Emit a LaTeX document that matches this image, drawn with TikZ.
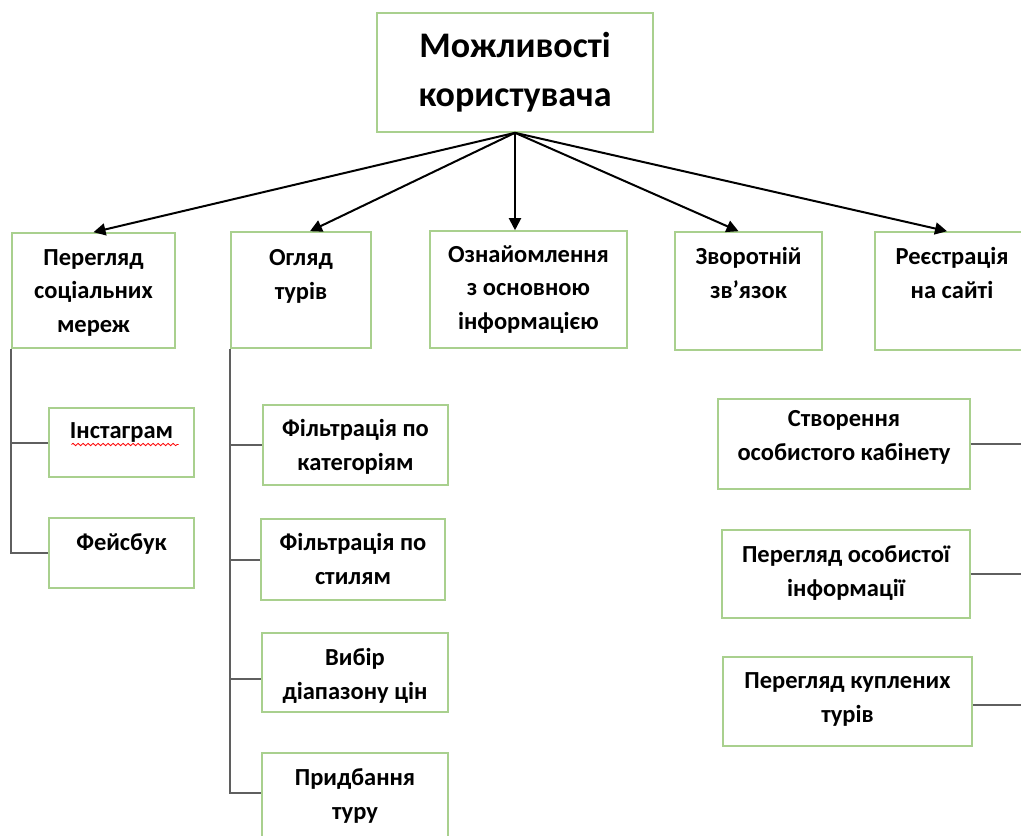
\documentclass[tikz,border=0pt]{standalone}
\usepackage{fontspec}
\setmainfont{Carlito}
\usetikzlibrary{arrows.meta, calc, positioning, decorations.pathmorphing}
\definecolor{boxgreen}{RGB}{169,208,142}
\definecolor{linegray}{RGB}{95,95,95}

\begin{document}
\begin{tikzpicture}[x=1pt, y=-1pt,
  box/.style={draw=boxgreen, line width=1.6pt, inner sep=0pt},
  txt/.style={font=\fontsize{24.5}{33.5}\selectfont\bfseries, align=center, anchor=base, inner sep=0pt},
  link/.style={draw=linegray, line width=2pt},
  arr/.style={-{Triangle[length=12pt,width=12pt]}, line width=2pt},
  squiggle/.style={red, line width=0.8pt, decorate, decoration={snake, amplitude=1.2pt, segment length=5pt}}
]
\useasboundingbox (0,0) rectangle (1021,836);
\fill[white] (0,0) rectangle (1021,836);
\clip (0,0) rectangle (1021,836);

% Root
\node[box, minimum width=276, minimum height=119, align=center,
      font=\fontsize{36}{49}\selectfont\bfseries] (root) at (515,72.5) {Можливості\\користувача};

% First level (base of the last line is placed)
\node[box, minimum width=163, minimum height=115, label={[txt, yshift=-100pt]north:Перегляд\\соціальних\\мереж}] (social) at (93.5,290.5) {};
\node[box, minimum width=140, minimum height=116, label={[txt, yshift=-68pt]north:Огляд\\турів}] (tours) at (301,290) {};
\node[box, minimum width=197, minimum height=117, label={[txt, yshift=-99pt]north:Ознайомлення\\з основною\\інформацією}] (info) at (528.5,289.5) {};
\node[box, minimum width=147, minimum height=118, label={[txt, yshift=-67pt]north:Зворотній\\зв’язок}] (feedback) at (748.5,291) {};
\node[box, minimum width=154, minimum height=118, label={[txt, yshift=-67pt]north:Реєстрація\\на сайті}] (register) at (952,291) {};

% Arrows
\draw[arr] (root.south) -- (social.north);
\draw[arr] (root.south) -- ([xshift=9pt]tours.north);
\draw[arr] (root.south) -- (info.north -| root.south);
\draw[arr] (root.south) -- ([xshift=-10pt]feedback.north);
\draw[arr] (root.south) -- ([xshift=-5pt]register.north);

% Social networks
\node[box, minimum width=145, minimum height=69, label={[txt, yshift=-31pt]north:Інстаграм}] (insta) at (121.5,442.5) {};
\node[box, minimum width=145, minimum height=70, label={[txt, yshift=-33pt]north:Фейсбук}] (fb) at (121.5,553) {};
\draw[squiggle] ([xshift=-50pt,yshift=-2pt]insta.center) -- ([xshift=57pt,yshift=-2pt]insta.center);
\draw[link] (social.south west |- insta.west) -- (insta.west);
\draw[link] (social.south west) |- (fb.west);

% Tours
\node[box, minimum width=185, minimum height=80, label={[txt, yshift=-66pt]north:Фільтрація по\\категоріям}] (cat) at (355.5,445) {};
\node[box, minimum width=184, minimum height=81, label={[txt, yshift=-66pt]north:Фільтрація по\\стилям}] (style) at (353,559.5) {};
\node[box, minimum width=186, minimum height=79, label={[txt, yshift=-67pt]north:Вибір\\діапазону цін}] (price) at (355,672.5) {};
\node[box, minimum width=186, minimum height=92, label={[txt, yshift=-67pt]north:Придбання\\туру}] (buy) at (355,799) {};
\draw[link] (tours.south west |- cat.west) -- (cat.west);
\draw[link] (tours.south west |- style.west) -- (style.west);
\draw[link] ([yshift=-6.5pt]tours.south west |- price.west) -- ([yshift=-6.5pt]price.west);
\draw[link] (tours.south west) |- ([yshift=6pt]buy.west);

% Registration
\node[box, minimum width=252, minimum height=90, label={[txt, yshift=-62pt]north:Створення\\особистого кабінету}] (cabinet) at (844,444) {};
\node[box, minimum width=248, minimum height=88, label={[txt, yshift=-67pt]north:Перегляд особистої\\інформації}] (personal) at (846,574) {};
\node[box, minimum width=249, minimum height=89, label={[txt, yshift=-66pt]north:Перегляд куплених\\турів}] (bought) at (847.5,701.5) {};
\draw[link] (cabinet.east) -- (cabinet.east -| register.south east);
\draw[link] (personal.east) -- (personal.east -| register.south east);
\draw[link] (register.south east) |- ([yshift=-3pt]bought.east);
\end{tikzpicture}
\end{document}
